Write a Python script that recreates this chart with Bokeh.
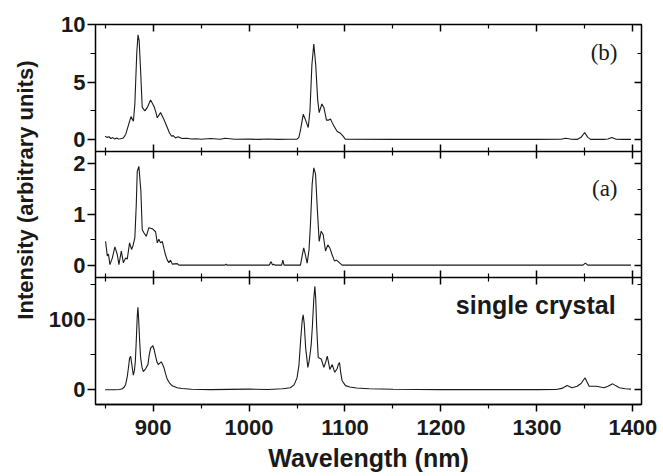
from bokeh.plotting import figure
from bokeh.models import Range1d, LinearAxis, FixedTicker, Label, Title
from bokeh.embed import file_html
from bokeh.resources import INLINE

# ---------------- data ----------------
# panel (b)
wl_b = [850, 852, 854, 856, 858, 860, 862, 864, 866, 869, 871.5, 874.5, 877, 879.5, 881,
        883, 884.3, 885.5, 887, 888.7, 891.5, 894, 897.4, 900.9, 902.5, 904.4, 907.8,
        911.3, 914.8, 917, 919.3, 921, 923.4, 926, 930, 935, 940, 945, 950, 960, 970,
        975, 985, 1000, 1010, 1020, 1030, 1040, 1050, 1052, 1054, 1056.5, 1058.5, 1061.7,
        1063.5, 1065.5, 1067.5, 1069.5, 1071.5, 1073.1, 1075.9, 1078, 1080.7, 1083,
        1084.9, 1086.5, 1088.3, 1091.9, 1095.3, 1098, 1100.5, 1150, 1200, 1250, 1300,
        1325, 1330, 1335, 1342, 1346, 1349.8, 1353, 1356, 1370, 1374, 1378, 1382, 1390, 1398]
int_b = [0.3, 0.2, 0.25, 0.1, 0.18, 0.05, 0.15, 0.05, 0.08, 0.15, 0.45, 1.3, 2.0, 1.6, 3.1,
         7.5, 9.1, 8.6, 6.0, 2.8, 2.5, 2.8, 3.45, 2.9, 2.5, 1.9, 2.35,
         1.75, 1.05, 0.6, 0.3, 0.35, 0.15, 0.25, 0.1, 0.12, 0.05, 0.08, 0.04, 0.1, 0.03,
         0.12, 0.03, 0.05, 0.02, 0.06, 0.02, 0.03, 0.05, 0.2, 1.0, 2.2, 1.8, 1.05,
         2.5, 6.5, 8.3, 6.5, 3.5, 2.35, 3.1, 2.8, 1.7, 1.7,
         1.8, 1.5, 1.2, 0.7, 0.55, 0.3, 0.03, 0.02, 0.02, 0.02, 0.02,
         0.03, 0.12, 0.05, 0.02, 0.2, 0.62, 0.2, 0.02, 0.02, 0.05, 0.18, 0.05, 0.02, 0.02]

# panel (a)
wl_a = [850.5, 852.3, 853.5, 855, 857.5, 860.2, 862.7, 864.4, 866.9, 869, 871.4, 873.1,
        875.5, 877.6, 879, 881, 882.5, 883.5, 885.2, 887.3, 888.7, 890.4, 892.9, 895.6,
        899.2, 902.6, 904.4, 906, 907.8, 909.6, 911.3, 913, 914.8, 916.5, 918.2, 920,
        925.2, 926.9, 975, 976, 977, 1021, 1023, 1024.5, 1025.8, 1027, 1034, 1035.2,
        1036.5, 1053.6, 1055.5, 1057, 1058.8, 1060.6, 1062.5, 1064, 1065.8, 1067.5,
        1069.3, 1071.2, 1073.1, 1075.2, 1077.3, 1079.7, 1082.1, 1084.2, 1086.7, 1089.1,
        1091.1, 1093.5, 1097, 1348, 1350.5, 1353, 1398]
int_a = [0.47, 0.18, 0.22, 0.01, 0.14, 0.36, 0.21, 0.01, 0.28, 0.05, 0.14, 0.12,
         0.44, 0.31, 0.38, 0.54, 1.2, 1.85, 1.95, 1.46, 0.70, 0.64, 0.57, 0.74,
         0.72, 0.66, 0.44, 0.51, 0.44, 0.47, 0.33, 0.2, 0.1, 0.05, 0.1, 0.02,
         0.03, 0.0, 0.0, 0.02, 0.0, 0.0, 0.07, 0.0, 0.02, 0.0, 0.0, 0.1,
         0.0, 0.0, 0.2, 0.34, 0.2, 0.04, 0.3, 0.8, 1.6, 1.92,
         1.8, 1.1, 0.47, 0.67, 0.6, 0.28, 0.4, 0.34, 0.2, 0.08,
         0.1, 0.06, 0.0, 0.0, 0.04, 0.0, 0.0]

# single crystal
wl_c = [850, 860, 865, 868, 870, 871.5, 873, 874, 875.5, 876.6, 878, 879.4, 880.5, 881.5,
        882.5, 883.5, 884.2, 885, 886, 887, 888.5, 889.8, 892.2, 894.6, 896, 897.5, 899.8,
        901, 902.6, 904, 905.4, 907, 908.5, 910, 911.3, 913, 914.8, 917, 920, 925, 930,
        940, 960, 1000, 1020, 1035, 1043, 1047, 1050, 1052, 1054, 1055.5, 1056.4, 1057.5,
        1059, 1061.3, 1062.5, 1064, 1064.8, 1066, 1067.5, 1068.6, 1069.5, 1070.5, 1072.1,
        1075.2, 1078, 1080, 1081.5, 1083, 1084.2, 1086.7, 1089.3, 1091.8, 1093, 1094.3,
        1095.5, 1097, 1100.5, 1105, 1112, 1125, 1150, 1200, 1300, 1320, 1326, 1331.5,
        1336.5, 1342, 1346, 1348.5, 1350.3, 1352, 1354.5, 1358, 1362, 1366, 1370, 1374,
        1378.9, 1382, 1386, 1392, 1398]
int_c = [0, 0, 0.5, 1.5, 4, 8, 18, 28, 45, 48, 35, 21, 27, 40,
         70, 105, 118, 100, 70, 46, 32, 26, 30, 36, 50, 60, 63,
         58, 48, 40, 36, 38, 40, 36, 32, 23, 15, 10, 5.7, 3, 1.8,
         0.8, 0.3, 1, 0.5, 1.5, 3, 7, 17, 35, 75, 100, 107, 95,
         60, 32, 40, 55, 65, 90, 130, 148, 130, 90, 46,
         44, 32, 40, 48, 38, 29, 36, 25, 30, 36, 39,
         25, 13, 6, 4, 2.5, 1.5, 0.7, 0.3, 0.3, 0.5, 2, 6,
         3, 5, 9, 14, 17, 12, 5, 5, 5, 4, 3, 5,
         8.5, 6, 3, 1.5, 1]

x_ticks = [900, 1000, 1100, 1200, 1300, 1400]
x_minor = [850, 950, 1050, 1150, 1250, 1350]
b_ticks, b_minor, b_lim = [0, 5, 10], [2.5, 7.5], (-1, 10)
a_ticks, a_minor, a_lim = [0, 1, 2], [0.5, 1.5], (-0.25, 2.25)
c_ticks, c_minor, c_lim = [0, 100], [50, 150], (-21, 160)
x_lim = (840, 1409)

x_title = "Wavelength (nm)"
y_title = "Intensity (arbitrary units)"
label_b, label_a, label_c = "(b)", "(a)", "single crystal"

# ---------------- figure ----------------
SANS = "Liberation Sans"
TICK_FS = "22px"
INK = "#1a1a1a"

p = figure(width=663, height=476, min_border_left=95, min_border_right=22,
           min_border_top=24, min_border_bottom=72,
           x_range=Range1d(*x_lim), y_range=Range1d(0, 3),
           output_backend="svg", toolbar_location=None)
p.grid.visible = False
p.outline_line_color = "black"
p.outline_line_width = 1.5
p.background_fill_color = "white"
p.border_fill_color = "white"

# bottom axis with labels
xa = p.xaxis[0]
xa.ticker = FixedTicker(ticks=x_ticks, minor_ticks=x_minor)
xa.major_tick_in = 0
xa.major_tick_out = 7
xa.minor_tick_in = 0
xa.minor_tick_out = 4
xa.axis_line_width = 1.5
xa.major_tick_line_width = 1.5
xa.minor_tick_line_width = 1.2
xa.major_label_text_font = SANS
xa.major_label_text_font_style = "bold"
xa.major_label_text_font_size = TICK_FS
xa.major_label_text_color = INK
xa.major_label_standoff = 8
xa.axis_label = x_title
xa.axis_label_text_font = SANS
xa.axis_label_text_font_style = "bold"
xa.axis_label_text_font_size = "25px"
xa.axis_label_text_color = INK
xa.axis_label_standoff = 6

# panel layout: each panel takes one unit of the frame's base range (0..3)
panels = [("b", wl_b, int_b, b_lim, b_ticks, b_minor, 2),
          ("a", wl_a, int_a, a_lim, a_ticks, a_minor, 1),
          ("c", wl_c, int_c, c_lim, c_ticks, c_minor, 0)]

# left axis: one axis on the base range, labelled with each panel's own values
major_pos, minor_pos, overrides = [], [], {}
for name, xs, ys, (lo, hi), ticks, minor, idx in panels:
    for v in ticks:
        pos = idx + (v - lo) / (hi - lo)
        major_pos.append(pos)
        overrides[pos] = f"{v:g}"
    for v in minor:
        minor_pos.append(idx + (v - lo) / (hi - lo))

ya = p.yaxis[0]
ya.ticker = FixedTicker(ticks=major_pos, minor_ticks=minor_pos)
ya.major_label_overrides = overrides
ya.axis_line_color = None
ya.major_tick_in = 0
ya.major_tick_out = 8
ya.minor_tick_in = 0
ya.minor_tick_out = 5
ya.major_tick_line_width = 1.5
ya.minor_tick_line_width = 1.2
ya.major_label_text_font = SANS
ya.major_label_text_font_style = "bold"
ya.major_label_text_font_size = TICK_FS
ya.major_label_text_color = INK
ya.major_label_standoff = 2

# y title as a side-panel title, its top end placed below the frame top
p.add_layout(Title(text=y_title, align="right", offset=36, standoff=16,
                   text_font=SANS, text_font_style="bold", text_font_size="22px",
                   text_color=INK), "left")

# separators and top inner ticks
for loc, tin, tout, line in [(1, 7, 7, "black"), (2, 7, 7, "black"), (3, 0, 7, None)]:
    ax = LinearAxis(fixed_location=loc,
                    ticker=FixedTicker(ticks=x_ticks, minor_ticks=x_minor),
                    major_tick_in=tin, major_tick_out=tout,
                    minor_tick_in=min(tin, 4), minor_tick_out=min(tout, 4),
                    axis_line_color=line, axis_line_width=1.5,
                    major_tick_line_width=1.5, minor_tick_line_width=1.2,
                    major_label_text_color=None)
    p.add_layout(ax, "below")

# right inner ticks
right = LinearAxis(fixed_location=x_lim[1],
                   ticker=FixedTicker(ticks=major_pos, minor_ticks=minor_pos),
                   major_tick_in=7, major_tick_out=0, minor_tick_in=4, minor_tick_out=0,
                   axis_line_color=None,
                   major_tick_line_width=1.5, minor_tick_line_width=1.2,
                   major_label_text_color=None)
p.add_layout(right, "right")

extra = {}
for name, xs, ys, (lo, hi), ticks, minor, idx in panels:
    span = hi - lo
    start = lo - idx * span
    extra[name] = Range1d(start, start + 3 * span)
p.extra_y_ranges = extra

for name, xs, ys, (lo, hi), ticks, minor, idx in panels:
    p.line(xs, ys, y_range_name=name, line_color=INK, line_width=1.1)

p.add_layout(Label(x=1384, y=2.779, text=label_b, text_align="right", text_baseline="middle",
                   text_font="Liberation Serif", text_font_size="23px", text_color=INK))
p.add_layout(Label(x=1384, y=1.705, text=label_a, text_align="right", text_baseline="middle",
                   text_font="Liberation Serif", text_font_size="23px", text_color=INK))
p.add_layout(Label(x=1382, y=0.782, text=label_c, text_align="right", text_baseline="middle",
                   text_font=SANS, text_font_style="bold", text_font_size="25px", text_color=INK))

open("out.html", "w").write(file_html(p, INLINE))
